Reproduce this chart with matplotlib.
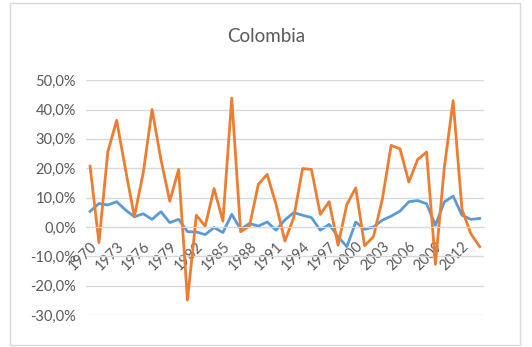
import matplotlib
matplotlib.use("Agg")
import matplotlib.pyplot as plt
import matplotlib.ticker as mticker
from matplotlib.patches import Rectangle

years = list(range(1970, 2015))

# blue series (%)
blue = [5.3, 8.0, 7.5, 8.6, 5.8, 3.5, 4.5, 2.6, 5.2, 1.5,
        2.6, -1.6, -1.7, -2.6, -0.2, -1.9, 4.3, -0.8, 1.2, 0.3,
        1.7, -1.1, 2.4, 4.9, 4.0, 3.2, -1.1, 0.9, -3.3, -6.7,
        1.7, -0.8, 0.0, 2.3, 3.7, 5.4, 8.6, 9.0, 7.9, 0.6,
        8.5, 10.5, 4.0, 2.6, 2.9]

# orange series (%)
orange = [20.7, -5.3, 25.5, 36.3, 19.6, 3.5, 18.4, 40.0, 23.0, 8.8,
          19.6, -24.9, 4.0, 0.3, 13.1, 2.0, 43.9, -1.6, 0.3, 14.5,
          17.9, 7.7, -4.8, 3.2, 19.9, 19.6, 4.3, 8.6, -6.2, 7.7,
          13.3, -6.4, -3.3, 9.4, 27.8, 26.6, 15.3, 23.0, 25.5, -12.7,
          20.1, 43.0, 6.0, -2.3, -6.7]

txt = "#595959"
grid = "#d9d9d9"

plt.rcParams['font.family'] = ['Lato', 'DejaVu Sans']

fig = plt.figure(figsize=(5.32, 3.47), dpi=100)
ax = fig.add_axes([0.161, 0.092, 0.749, 0.677])

x = list(range(len(years)))
ax.plot(x, [v / 100 for v in blue], color="#5b9bd5", lw=2, solid_joinstyle="round")
ax.plot(x, [v / 100 for v in orange], color="#ed7d31", lw=2, solid_joinstyle="round")

ax.set_xlim(-0.5, len(years) - 0.5)
ax.set_ylim(-0.30, 0.50)
ax.yaxis.set_major_locator(mticker.MultipleLocator(0.10))
ax.yaxis.set_major_formatter(mticker.FuncFormatter(lambda v, p: f"{v*100:.1f}%".replace(".", ",")))
ax.grid(axis="y", color=grid, lw=1)
ax.set_axisbelow(True)

for s in ["top", "right", "left"]:
    ax.spines[s].set_visible(False)
ax.spines["bottom"].set_position(("data", 0))
ax.spines["bottom"].set_color(grid)

ticks = x[::3]
ax.set_xticks(ticks)
ax.set_xticklabels([str(years[i]) for i in ticks], rotation=45, ha="right",
                   rotation_mode="anchor")
ax.tick_params(axis="x", length=0, pad=9, labelsize=10.5, colors=txt)
ax.tick_params(axis="y", length=0, pad=7, labelsize=10.5, colors=txt)

fig.text(0.5, 1 - 36 / 347, "Colombia", color=txt, fontsize=13.5,
         ha="center", va="center")

fig.patches.append(Rectangle((10 / 532, 2 / 347), 510 / 532, 342 / 347,
                             transform=fig.transFigure, fill=False,
                             edgecolor=grid, lw=1))

fig.savefig("out.png", dpi=100)
